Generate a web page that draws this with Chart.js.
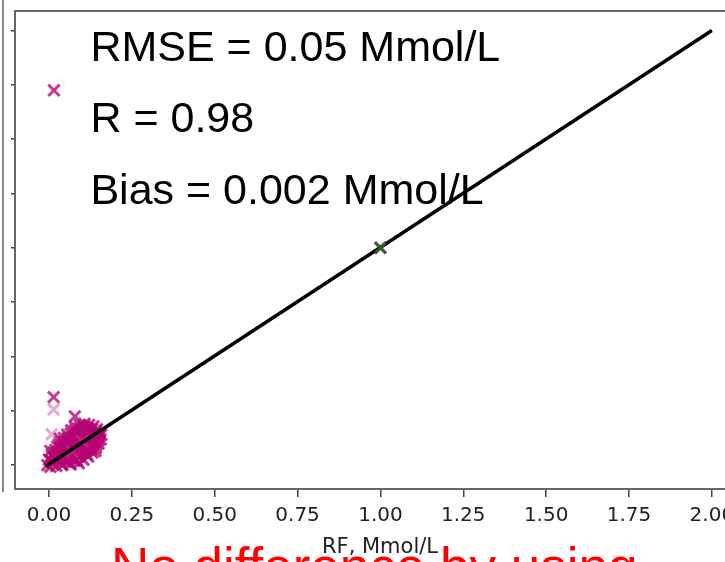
<!DOCTYPE html>
<html>
<head>
<meta charset="utf-8">
<script src="https://cdn.jsdelivr.net/npm/chart.js@4.4.1/dist/chart.umd.min.js"></script>
<style>
  html, body { margin: 0; padding: 0; background: #fff; }
  #wrap { position: relative; width: 725px; height: 562px; overflow: hidden; }
  #wrap canvas { position: absolute; left: 0; top: 0; }
  #panelEdge { position: absolute; left: 2px; top: 0; width: 2px; height: 492px; background: #888; }
  #note { position: absolute; left: 111px; top: 540px; font: 53px "Liberation Sans", Arial, sans-serif;
          line-height: 53px; color: #ff0000; white-space: nowrap; }
</style>
</head>
<body>
<div id="wrap">
  <canvas id="rfchart" width="760" height="562"></canvas>
  <div id="panelEdge"></div>
  <div id="note">No difference by using</div>
</div>
<script>
// ticks (Mmol/L)
const xTicks = [0, 0.25, 0.5, 0.75, 1.0, 1.25, 1.5, 1.75, 2.0];
const yTicks = [0, 0.25, 0.5, 0.75, 1.0, 1.25, 1.5, 1.75, 2.0];

// stats text shown top-left
const statsLabels = ['RMSE = 0.05 Mmol/L', 'R = 0.98', 'Bias = 0.002 Mmol/L'];

const clusterPoints = [
  [-0.005, 0.000], [0.000, 0.025], [0.004, -0.008], [0.004, 0.065], [0.008, 0.045],
  [0.012, 0.010], [0.016, 0.060], [0.018, 0.032], [0.022, -0.004], [0.025, 0.085],
  [0.028, 0.050], [0.031, 0.018], [0.032, 0.122], [0.034, 0.105], [0.036, 0.070],
  [0.040, 0.000], [0.042, 0.038], [0.045, 0.125], [0.047, 0.090], [0.050, 0.058],
  [0.052, 0.015], [0.055, 0.140], [0.058, 0.108], [0.060, 0.075], [0.062, 0.035],
  [0.065, 0.003], [0.067, 0.160], [0.069, 0.128], [0.072, 0.095], [0.074, 0.055],
  [0.077, 0.020], [0.079, 0.175], [0.081, 0.145], [0.083, 0.112], [0.086, 0.072],
  [0.088, 0.040], [0.090, 0.008], [0.093, 0.185], [0.095, 0.158], [0.097, 0.125],
  [0.099, 0.090], [0.101, 0.055], [0.104, 0.025], [0.107, 0.190], [0.109, 0.165],
  [0.111, 0.135], [0.113, 0.100], [0.115, 0.068], [0.118, 0.040], [0.121, 0.185],
  [0.123, 0.155], [0.126, 0.120], [0.128, 0.085], [0.131, 0.058], [0.134, 0.178],
  [0.137, 0.145], [0.139, 0.110], [0.140, 0.065], [0.142, 0.080], [0.145, 0.165],
  [0.148, 0.130], [0.150, 0.100], [0.153, 0.150], [0.156, 0.118], [0.158, 0.140],
  [0.006, 0.020], [0.014, 0.040], [0.020, 0.070], [0.026, 0.028], [0.030, 0.095],
  [0.038, 0.055], [0.044, 0.108], [0.048, 0.025], [0.053, 0.080], [0.057, 0.125],
  [0.063, 0.055], [0.066, 0.145], [0.070, 0.110], [0.075, 0.035], [0.078, 0.160],
  [0.082, 0.090], [0.085, 0.130], [0.089, 0.060], [0.092, 0.170], [0.096, 0.105],
  [0.100, 0.140], [0.103, 0.075], [0.106, 0.178], [0.110, 0.120], [0.114, 0.050],
  [0.117, 0.170], [0.120, 0.088], [0.124, 0.138], [0.127, 0.070], [0.130, 0.165],
  [0.133, 0.100], [0.136, 0.128], [0.141, 0.155], [0.144, 0.095], [0.149, 0.115],
  [0.152, 0.135], [0.085, 0.020], [0.060, 0.012], [0.035, 0.012],
  [1.000, 1.000]
];
// the few stray ones
const outlierPoints = [[0.015, 1.725], [0.014, 0.313], [0.078, 0.224]];
const palePoints = [[0.014, 0.256], [0.008, 0.142], [0.070, 0.062], [0.100, 0.110]];
const greenPoints = [[1.0, 1.0]];

// fitted line
const lineX = [-0.008, 2.0];
const lineY = [-0.004, 2.0];

const toXY = arr => arr.map(p => ({ x: p[0], y: p[1] }));

// frame round the plot + the stats text
const framePlugin = {
  id: 'frame',
  beforeDatasetsDraw(chart) {
    const { ctx, chartArea } = chart;
    ctx.save();
    ctx.strokeStyle = '#666';
    ctx.lineWidth = 2;
    ctx.strokeRect(chartArea.left, chartArea.top, chartArea.right - chartArea.left, chartArea.bottom - chartArea.top);
    ctx.restore();
  },
  afterDatasetsDraw(chart) {
    const { ctx, scales } = chart;
    const tx = scales.x.getPixelForValue(0.125);
    const ys = [1.860, 1.531, 1.201];
    ctx.save();
    ctx.fillStyle = '#000';
    ctx.font = '43px "Liberation Sans", Arial, sans-serif';
    ctx.textBaseline = 'alphabetic';
    statsLabels.forEach((t, i) => ctx.fillText(t, tx, scales.y.getPixelForValue(ys[i])));
    ctx.restore();
  }
};

const markerBase = { showLine: false, pointStyle: 'crossRot', pointRadius: 8, pointBorderWidth: 3, pointHoverRadius: 8 };

new Chart(document.getElementById('rfchart').getContext('2d'), {
  type: 'scatter',
  data: {
    datasets: [
      Object.assign({}, markerBase, {
        label: 'green', data: toXY(greenPoints), pointRadius: 7.5, pointBorderWidth: 3,
        borderColor: 'rgba(45,100,40,0.95)', backgroundColor: 'rgba(45,100,40,0.95)'
      }),
      {
        label: 'fit', type: 'line', showLine: true, pointRadius: 0,
        data: lineX.map((x, i) => ({ x: x, y: lineY[i] })),
        borderColor: '#000', borderWidth: 3.5, fill: false
      },
      Object.assign({}, markerBase, {
        label: 'outliers', data: toXY(outlierPoints),
        borderColor: 'rgba(185,10,120,0.8)', backgroundColor: 'rgba(185,10,120,0.8)'
      }),
      Object.assign({}, markerBase, {
        label: 'pale', data: toXY(palePoints),
        borderColor: 'rgba(215,60,150,0.45)', backgroundColor: 'rgba(215,60,150,0.45)'
      }),
      Object.assign({}, markerBase, {
        label: 'cluster', data: toXY(clusterPoints),
        borderColor: 'rgba(180,5,115,0.8)', backgroundColor: 'rgba(180,5,115,0.8)'
      })
    ]
  },
  options: {
    responsive: false,
    animation: false,
    devicePixelRatio: 1,
    layout: { padding: { top: 9, right: 15, bottom: 0, left: 0 } },
    plugins: { legend: { display: false }, tooltip: { enabled: false } },
    scales: {
      x: {
        type: 'linear', min: -0.1026, max: 2.1,
        afterBuildTicks: s => { s.ticks = xTicks.map(v => ({ value: v })); },
        afterFit: s => { s.height = 73; },
        border: { display: false },
        grid: { drawOnChartArea: false, drawTicks: true, tickLength: 8, color: '#444', lineWidth: 1.5 },
        ticks: {
          color: '#222', padding: 7, maxRotation: 0, autoSkip: false,
          font: { family: '"DejaVu Sans"', size: 20 },
          callback: v => Number(v).toFixed(2)
        },
        title: {
          display: true, text: 'RF, Mmol/L', color: '#222',
          font: { family: '"DejaVu Sans"', size: 21 }, padding: { top: 0, bottom: 2 }
        }
      },
      y: {
        type: 'linear', min: -0.11, max: 2.09,
        afterBuildTicks: s => { s.ticks = yTicks.map(v => ({ value: v })); },
        afterFit: s => { s.width = 15; },
        border: { display: false },
        grid: { drawOnChartArea: false, drawTicks: true, tickLength: 4, color: '#444', lineWidth: 1.5 },
        ticks: { display: false }
      }
    }
  },
  plugins: [framePlugin]
});
</script>
</body>
</html>
